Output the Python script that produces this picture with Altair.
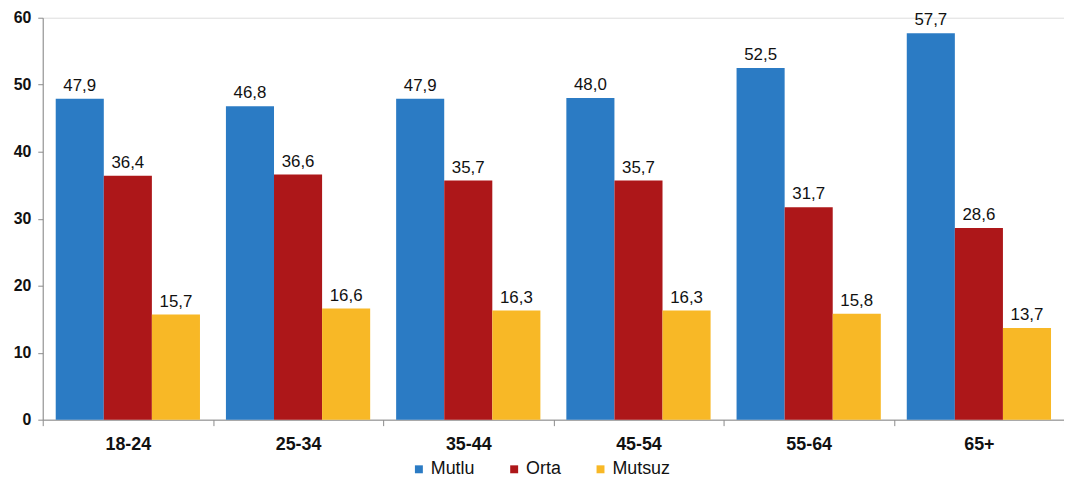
import altair as alt
import pandas as pd

groups = ["18-24", "25-34", "35-44", "45-54", "55-64", "65+"]
series = ["Mutlu", "Orta", "Mutsuz"]
mutlu = [47.9, 46.8, 47.9, 48.0, 52.5, 57.7]
orta = [36.4, 36.6, 35.7, 35.7, 31.7, 28.6]
mutsuz = [15.7, 16.6, 16.3, 16.3, 15.8, 13.7]
colors = ["#2B7BC4", "#AD1719", "#F8B826"]

rows = []
for name, vals in zip(series, [mutlu, orta, mutsuz]):
    for g, v in zip(groups, vals):
        rows.append({"grup": g, "seri": name, "deger": v})
df = pd.DataFrame(rows)

base = alt.Chart(df).encode(
    x=alt.X("grup:N", sort=groups, title=None,
            scale=alt.Scale(paddingInner=0, paddingOuter=0),
            axis=alt.Axis(labelAngle=0, tickBand="extent", tickSize=6, labelPadding=10,
                          labelFont="Liberation Sans", labelFontSize=18, labelFontWeight="bold",
                          labelColor="#111111", domainColor="#8a8a8a", tickColor="#8a8a8a")),
    xOffset=alt.XOffset("seri:N", sort=series,
                        scale=alt.Scale(paddingInner=0, paddingOuter=0.27)),
)

bars = base.mark_bar().encode(
    y=alt.Y("deger:Q", title=None,
            scale=alt.Scale(domain=[0, 60], nice=False),
            axis=alt.Axis(values=[0, 10, 20, 30, 40, 50, 60], grid=False, tickSize=5,
                          labelPadding=7, labelFont="Liberation Sans", labelFontSize=16,
                          labelFontWeight="bold", labelColor="#111111",
                          domainColor="#8a8a8a", tickColor="#8a8a8a")),
    color=alt.Color("seri:N", sort=series,
                    scale=alt.Scale(domain=series, range=colors),
                    legend=alt.Legend(title=None, orient="none", direction="horizontal",
                                      legendX=370, legendY=446, symbolType="square",
                                      symbolSize=64, symbolStrokeWidth=0, symbolOffset=0,
                                      labelFont="Liberation Sans", labelFontSize=18,
                                      labelColor="#111111", labelOffset=3,
                                      columnPadding=30, gridAlign="each")),
)

labels = base.mark_text(baseline="alphabetic", dy=-8, font="Liberation Sans",
                        fontSize=17, color="#111111").transform_calculate(
    etiket="replace(format(datum.deger, '.1f'), '.', ',')"
).encode(
    y=alt.Y("deger:Q"),
    text="etiket:N",
)

chart = alt.layer(bars, labels).properties(
    width=1029, height=405,
    autosize=alt.AutoSizeParams(type="none"),
    padding={"left": 35, "top": 8, "right": 0, "bottom": 62},
).configure_view(stroke=None).configure(background="white")

chart.save("out.html", embed_options={"renderer": "svg", "actions": False})
